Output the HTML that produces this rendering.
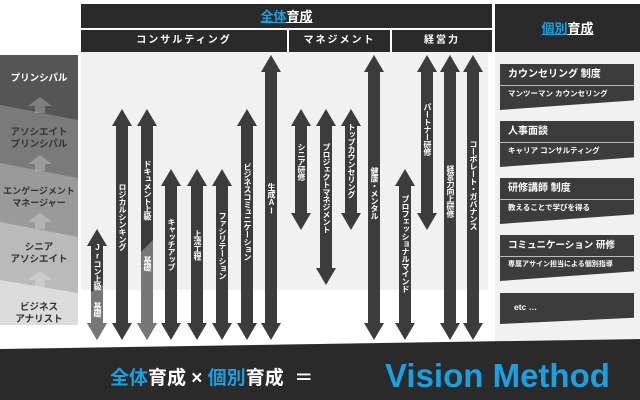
<!DOCTYPE html>
<html><head><meta charset="utf-8"><style>
*{margin:0;padding:0;box-sizing:border-box}
body{width:640px;height:400px;overflow:hidden;background:#fff;position:relative;font-family:"Liberation Sans","Noto Sans CJK JP",sans-serif}
.abs{position:absolute}
.hd{background:#2a2a2a;color:#fff;font-weight:bold;text-align:center}
.v{position:absolute;writing-mode:vertical-rl;text-orientation:upright;color:#fff;font-size:8px;font-weight:bold;line-height:12px;width:12px;letter-spacing:-0.5px;white-space:nowrap}
.lv{position:absolute;left:0;width:78px;text-align:center;font-size:9.5px;font-weight:bold;line-height:12px;color:#333}
.card{position:absolute;left:500px;width:134px;color:#fff;font-weight:bold}
.card .t{background:#3c3c3c;height:22px;font-size:10px;line-height:22px;padding-left:8px;border-bottom:1px solid #bbb}
.card .s{background:#3c3c3c;font-size:7.5px;line-height:16px;padding-left:8px;height:24px;clip-path:polygon(0 0,100% 0,100% 60%,0 100%)}
</style></head><body>
<svg class="abs" style="left:0;top:0" width="640" height="400">
<rect x="81" y="52" width="407" height="238" fill="#f1f1f1"/>
<rect x="495" y="52" width="145" height="290" fill="#f1f1f1"/>
<rect x="0" y="55" width="78" height="270" fill="#dcdcdc"/>
<polygon points="0,55 78,55 78,293 0,280" fill="#bababa"/>
<polygon points="0,55 78,55 78,237 0,222" fill="#9a9a9a"/>
<polygon points="0,55 78,55 78,178 0,163" fill="#7a7a7a"/>
<polygon points="0,55 78,55 78,120 0,105" fill="#555"/>
<g fill="#fff" opacity="0.25">
<polygon points="40,97 52,106 45,106 45,113 35,113 35,106 28,106"/>
<polygon points="40,155 52,164 45,164 45,171 35,171 35,164 28,164"/>
<polygon points="40,213 52,222 45,222 45,229 35,229 35,222 28,222"/>
<polygon points="40,271 52,280 45,280 45,287 35,287 35,280 28,280"/>
</g>
<polygon points="85,7 113,7 85,21" fill="#1aa0e0"/>
<polygon points="498,7 521,7 498,18" fill="#1aa0e0"/>
<g fill="#3c3c3c" id="arrows"></g>
<polygon points="0,349 640,339 640,400 0,400" fill="#2a2a2a"/>
</svg>
<script>
var A=[[97,229,340],[122,109,340],[147,109,340],[171,169,340],[197,169,340],[222,169,340],[247,109,340],[271,55,340],[301,109,230],[326,109,285],[351,109,230],[374,55,340],[405,169,340],[427,55,230],[450,55,340],[473,55,340]];
var g=document.getElementById('arrows'),ns='http://www.w3.org/2000/svg';
A.forEach(function(a){var c=a[0],t=a[1],b=a[2],h=17,w=10,s=6;
var p=document.createElementNS(ns,'polygon');
p.setAttribute('points',[c,t,c+w,t+h,c+s,t+h,c+s,b-h,c+w,b-h,c,b,c-w,b-h,c-s,b-h,c-s,t+h,c-w,t+h].join(' '));
g.appendChild(p);});
function gp(pts){var p=document.createElementNS(ns,'polygon');p.setAttribute('points',pts);p.setAttribute('fill','#777');g.appendChild(p);}
gp('91,292 103,285 103,323 107,323 97,340 87,323 91,323');
gp('141,252 153,240 153,323 157,323 147,340 137,323 141,323');
</script>
<div class="abs hd" style="left:81px;top:4px;width:411px;height:24px;font-size:13px;line-height:26px"><span style="color:#1aa0e0;text-decoration:underline">全体</span><span style="text-decoration:underline">育成</span></div>
<div class="abs hd" style="left:81px;top:30px;width:206px;height:22px;font-size:10px;line-height:22px;letter-spacing:2px">コンサルティング</div>
<div class="abs hd" style="left:289px;top:30px;width:101px;height:22px;font-size:10px;line-height:22px;letter-spacing:2px">マネジメント</div>
<div class="abs hd" style="left:392px;top:30px;width:100px;height:22px;font-size:10px;line-height:22px;letter-spacing:2px">経営力</div>
<div class="abs hd" style="left:495px;top:4px;width:145px;height:48px;font-size:13px;line-height:50px"><span style="color:#1aa0e0;text-decoration:underline">個別</span><span style="text-decoration:underline">育成</span></div>

<div class="lv" style="top:73px;color:#fff">プリンシパル</div>
<div class="lv" style="top:127px">アソシエイト<br>プリンシパル</div>
<div class="lv" style="top:185px;font-size:9px">エンゲージメント<br>マネージャー</div>
<div class="lv" style="top:242px">シニア<br>アソシエイト</div>
<div class="lv" style="top:302px">ビジネス<br>アナリスト</div>

<div class="v" style="left:91px;top:243px">Jrコン上級</div>
<div class="v" style="left:91px;top:302px">基礎</div>
<div class="v" style="left:116px;top:183px">ロジカルシンキング</div>
<div class="v" style="left:141px;top:160px">ドキュメント上級</div>
<div class="v" style="left:141px;top:256px">基礎</div>
<div class="v" style="left:165px;top:218px">キャッチアップ</div>
<div class="v" style="left:191px;top:230px">上流工程</div>
<div class="v" style="left:216px;top:212px">ファシリテーション</div>
<div class="v" style="left:241px;top:163px">ビジネスコミュニケーション</div>
<div class="v" style="left:265px;top:183px">生成AI</div>
<div class="v" style="left:295px;top:143px">シニア研修</div>
<div class="v" style="left:320px;top:143px">プロジェクトマネジメント</div>
<div class="v" style="left:345px;top:123px">トップカウンセリング</div>
<div class="v" style="left:368px;top:167px">健康・メンタル</div>
<div class="v" style="left:399px;top:195px">プロフェッショナルマインド</div>
<div class="v" style="left:421px;top:103px">パートナー研修</div>
<div class="v" style="left:444px;top:165px">経営力向上研修</div>
<div class="v" style="left:467px;top:140px">コーポレート・ガバナンス</div>

<div class="card" style="top:64px"><div class="t">カウンセリング 制度</div><div class="s">マンツーマン カウンセリング</div></div>
<div class="card" style="top:121px"><div class="t">人事面談</div><div class="s">キャリア コンサルティング</div></div>
<div class="card" style="top:178px"><div class="t">研修講師 制度</div><div class="s">教えることで学びを得る</div></div>
<div class="card" style="top:235px"><div class="t" style="font-size:9.5px">コミュニケーション 研修</div><div class="s" style="font-size:7px">専属アサイン担当による個別指導</div></div>
<div class="card" style="top:293px"><div class="s" style="height:31px;font-size:8.5px;line-height:28px;padding-left:14px;clip-path:polygon(0 0,100% 0,100% 80%,0 100%)">etc …</div></div>

<div class="abs" style="left:110px;top:364px;font-size:19px;font-weight:bold;color:#fff;line-height:30px;white-space:nowrap"><span style="color:#1aa0e0">全体</span>育成 × <span style="color:#1aa0e0">個別</span>育成 &nbsp;＝</div>
<div class="abs" style="left:385px;top:357px;font-size:33px;font-weight:bold;color:#1aa0e0;line-height:38px;white-space:nowrap">Vision Method</div>
</body></html>
